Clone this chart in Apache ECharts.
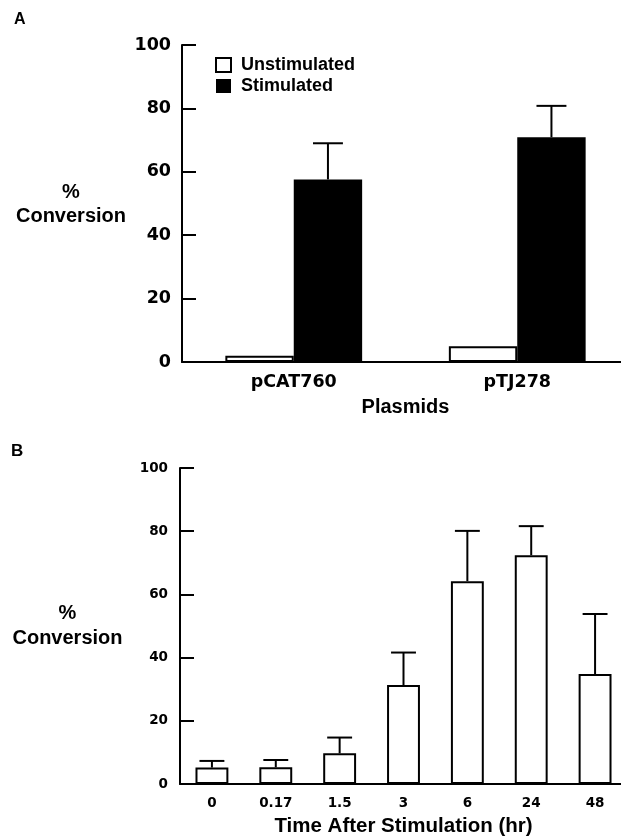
<!DOCTYPE html>
<html>
<head>
<meta charset="utf-8">
<script src="https://cdn.jsdelivr.net/npm/echarts@6/dist/echarts.min.js"></script>
<style>html,body{margin:0;padding:0;background:#fff;overflow:hidden;}#c{width:640px;height:839px;}</style>
</head>
<body>
<div id="c"></div>
<script>
// Panel A data
const plasmids = ['pCAT760', 'pTJ278'];
const unstimulated = [2.0, 5.0];
const stimulated = [57.6, 70.9];
const stimulatedSD = [11.4, 9.9];
// Panel B data
const times = ['0', '0.17', '1.5', '3', '6', '24', '48'];
const conversionB = [5.2, 5.3, 9.7, 31.3, 64.2, 72.4, 34.8];
const conversionBSD = [2.1, 2.3, 5.0, 10.3, 15.9, 9.2, 19.0];
const yTicks = [0, 20, 40, 60, 80, 100];

const chart = echarts.init(document.getElementById('c'));
const LIB = 'Liberation Sans, Arial, sans-serif';
const DJV = 'DejaVu Sans, sans-serif';

function errRender(offsetFrac, capFrac) {
  return function (params, api) {
    const x = api.value(0), v = api.value(1), e = api.value(2);
    const p0 = api.coord([x, v]);
    const p1 = api.coord([x, v + e]);
    const band = api.size([1, 0])[0];
    const cx = p0[0] + band * offsetFrac;
    const cap = band * capFrac / 2;
    return {
      type: 'group',
      children: [
        { type: 'line', shape: { x1: cx, y1: p0[1], x2: cx, y2: p1[1] }, style: { stroke: '#000', lineWidth: 2 } },
        { type: 'line', shape: { x1: cx - cap, y1: p1[1], x2: cx + cap, y2: p1[1] }, style: { stroke: '#000', lineWidth: 2 } }
      ]
    };
  };
}

const yAxisCommon = (fs, margin) => ({
  type: 'value', min: 0, max: 100, interval: 20,
  axisLine: { show: true, lineStyle: { color: '#000', width: 2 } },
  axisTick: { show: true, inside: true, length: 14, lineStyle: { color: '#000', width: 2 } },
  splitLine: { show: false },
  axisLabel: { color: '#000', fontFamily: DJV, fontWeight: 'bold', fontSize: fs, margin: margin,
    formatter: v => yTicks.indexOf(v) >= 0 ? String(v) : '' }
});

chart.setOption({
  animation: false,
  backgroundColor: '#fff',
  grid: [
    { left: 182, top: 45, width: 447, height: 317 },
    { left: 180, top: 468, width: 447, height: 316 }
  ],
  legend: {
    data: ['Unstimulated', 'Stimulated'],
    orient: 'vertical', left: 215, top: 56, padding: 0,
    itemWidth: 15, itemHeight: 14, itemGap: 3,
    icon: 'rect',
    textStyle: { fontFamily: LIB, fontWeight: 'bold', fontSize: 18, color: '#000', padding: [0, 0, 0, 5] }
  },
  xAxis: [
    { type: 'category', gridIndex: 0, data: plasmids,
      axisLine: { lineStyle: { color: '#000', width: 2 } }, axisTick: { show: false },
      axisLabel: { color: '#000', fontFamily: DJV, fontWeight: 'bold', fontSize: 17.5, margin: 11 },
      name: 'Plasmids', nameLocation: 'middle', nameGap: 45.7,
      nameTextStyle: { color: '#000', fontFamily: LIB, fontWeight: 'bold', fontSize: 20, verticalAlign: 'middle' } },
    { type: 'category', gridIndex: 1, data: times,
      axisLine: { lineStyle: { color: '#000', width: 2 } }, axisTick: { show: false },
      axisLabel: { color: '#000', fontFamily: DJV, fontWeight: 'bold', fontSize: 13.5, margin: 12 },
      name: 'Time After Stimulation (hr)', nameLocation: 'middle', nameGap: 42.7,
      nameTextStyle: { color: '#000', fontFamily: LIB, fontWeight: 'bold', fontSize: 20.5, verticalAlign: 'middle' } }
  ],
  yAxis: [
    Object.assign({ gridIndex: 0 }, yAxisCommon(17.5, 11)),
    Object.assign({ gridIndex: 1 }, yAxisCommon(13.5, 12))
  ],
  graphic: [
    { type: 'text', left: 14, top: 12, style: { text: 'A', font: 'bold 16px ' + LIB, fill: '#000' } },
    { type: 'text', left: 11, top: 443, style: { text: 'B', font: 'bold 17px ' + LIB, fill: '#000' } },
    { type: 'text', x: 71, y: 204.7, style: { text: '%\nConversion', font: 'bold 20px ' + LIB, fill: '#000', align: 'center', verticalAlign: 'middle', lineHeight: 24 } },
    { type: 'text', x: 67.5, y: 625.8, style: { text: '%\nConversion', font: 'bold 20px ' + LIB, fill: '#000', align: 'center', verticalAlign: 'middle', lineHeight: 25 } }
  ],
  series: [
    { name: 'Unstimulated', type: 'bar', xAxisIndex: 0, yAxisIndex: 0, data: unstimulated,
      barWidth: '30.6%', barGap: '0%',
      itemStyle: { color: '#fff', borderColor: '#000', borderWidth: 2 } },
    { name: 'Stimulated', type: 'bar', xAxisIndex: 0, yAxisIndex: 0, data: stimulated,
      barWidth: '30.6%', barGap: '0%',
      itemStyle: { color: '#000', borderColor: '#000', borderWidth: 0 } },
    { type: 'custom', xAxisIndex: 0, yAxisIndex: 0, z: 5,
      renderItem: errRender(0.153, 0.134),
      data: stimulated.map((v, i) => [i, v, stimulatedSD[i]]) },
    { name: 'B', type: 'bar', xAxisIndex: 1, yAxisIndex: 1, data: conversionB,
      barWidth: '51.5%',
      itemStyle: { color: '#fff', borderColor: '#000', borderWidth: 2 } },
    { type: 'custom', xAxisIndex: 1, yAxisIndex: 1, z: 5,
      renderItem: errRender(0, 0.39),
      data: conversionB.map((v, i) => [i, v, conversionBSD[i]]) }
  ]
});
</script>
</body>
</html>
